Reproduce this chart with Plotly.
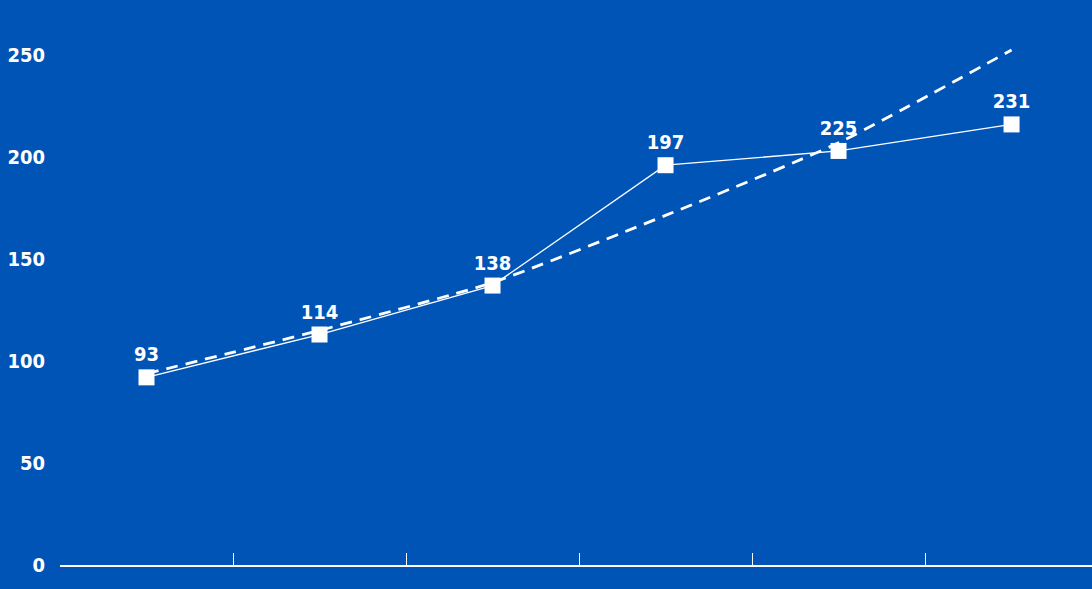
import plotly.graph_objects as go

categories = [0, 1, 2, 3, 4, 5]
values = [92, 113, 137, 196, 203, 216]
value_labels = ["93", "114", "138", "197", "225", "231"]
trend = [93.8, 115, 138.5, 171.4, 207, 252.5]
y_ticks = [0, 50, 100, 150, 200, 250]
x_bounds = [-0.5, 0.5, 1.5, 2.5, 3.5, 4.5]

BG = "#0054B6"
FONT = "DejaVu Sans Condensed"

fig = go.Figure()
fig.add_trace(go.Scatter(
    x=categories, y=trend, mode="lines",
    line=dict(color="white", width=2.8, dash="12px,8px", shape="spline", smoothing=0.6),
    hoverinfo="skip", showlegend=False,
))
fig.add_trace(go.Scatter(
    x=categories, y=values, mode="lines+markers+text",
    line=dict(color="white", width=1.3),
    marker=dict(symbol="square", size=16, color="white"),
    text=value_labels, textposition="top center",
    textfont=dict(family=FONT, size=20, color="white", weight="bold"),
    showlegend=False,
))

fig.update_layout(
    width=1092, height=589,
    margin=dict(l=60, r=0, t=0, b=24),
    paper_bgcolor=BG, plot_bgcolor=BG,
    font=dict(family=FONT, color="white", size=20),
)
fig.update_xaxes(
    range=[-0.5, 5.465], tickvals=x_bounds, ticktext=[""] * len(x_bounds),
    showgrid=False, zeroline=False, showline=True, linecolor="white", linewidth=1.5,
    ticks="inside", ticklen=12, tickcolor="white", tickwidth=1.2,
)
fig.update_yaxes(
    range=[0, 277], tickvals=y_ticks, showgrid=False, zeroline=False, showline=False,
    tickfont=dict(family=FONT, size=20, color="white", weight="bold"),
    ticklabelstandoff=14,
)

fig.write_html(
    "out.html",
    config={"displayModeBar": False},
    post_script="document.body.style.margin='0';document.body.style.overflow='hidden';",
)
